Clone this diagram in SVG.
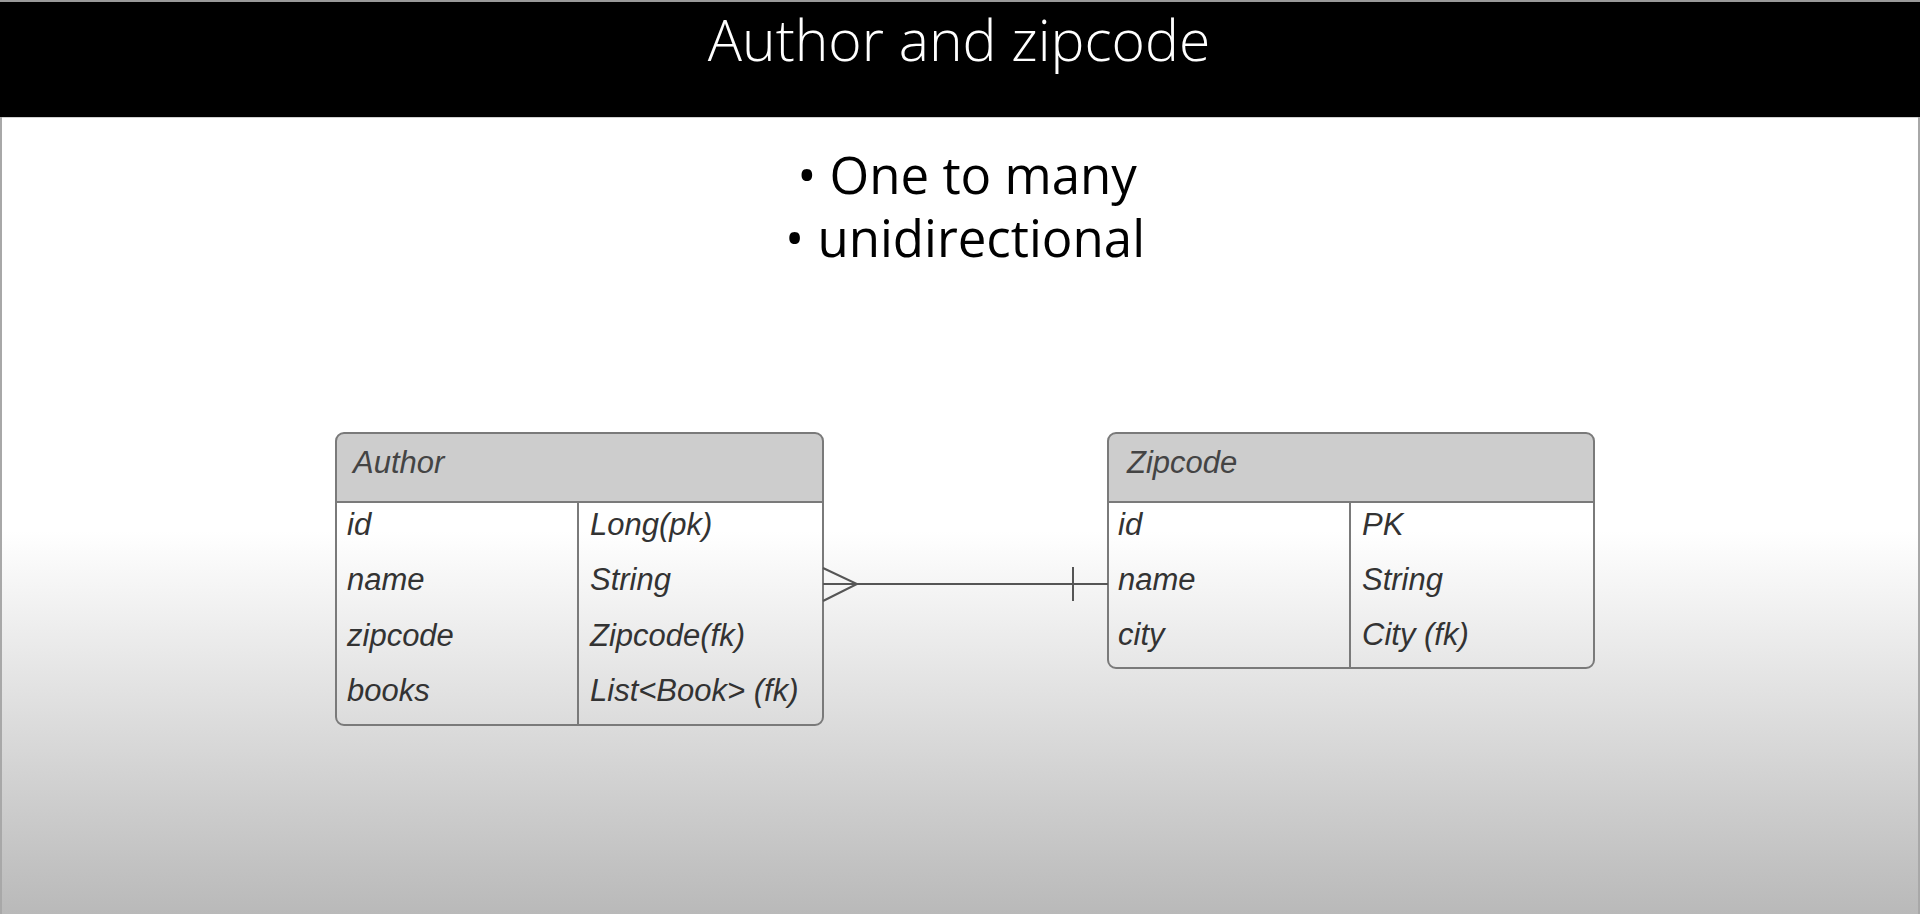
<svg xmlns="http://www.w3.org/2000/svg" width="1920" height="914" viewBox="0 0 1920 914">
  <defs>
    <linearGradient id="bg" gradientUnits="userSpaceOnUse" x1="0" y1="116" x2="0" y2="914">
      <stop offset="0" stop-color="#ffffff"/>
      <stop offset="0.52" stop-color="#ffffff"/>
      <stop offset="1" stop-color="#b9b9b9"/>
    </linearGradient>
    <style>
      .title { font-family: "Open Sans", "Liberation Sans", sans-serif; font-size: 57px; font-weight: 300; fill: #ffffff; }
      .bullet { font-family: "Open Sans", "Liberation Sans", sans-serif; font-size: 51px; fill: #000000; }
      .frame { fill: none; stroke: #7a7a7a; stroke-width: 2; }
      .head { fill: #cdcdcd; }
      .sep { stroke: #7a7a7a; stroke-width: 2; }
      .hdr { font-family: "Liberation Sans", Arial, sans-serif; font-style: italic; font-size: 31px; fill: #444444; }
      .cell { font-family: "Liberation Sans", Arial, sans-serif; font-style: italic; font-size: 31px; fill: #333333; }
      .conn { fill: none; stroke: #555555; stroke-width: 2; }
    </style>
  </defs>

  <!-- background -->
  <rect x="0" y="0" width="1920" height="914" fill="url(#bg)"/>
  <rect x="0" y="0" width="1920" height="2" fill="#9a9a9a"/>
  <rect x="0" y="2" width="1920" height="115" fill="#000000"/>
  <rect x="0" y="117" width="1920" height="1" fill="#d0d0d0"/>
  <rect x="0" y="117" width="2" height="797" fill="#a8a8a8"/>
  <rect x="1918" y="117" width="2" height="797" fill="#a8a8a8"/>

  <g id="title">
    <text class="title" x="959" y="61" text-anchor="middle">Author and zipcode</text>
  </g>

  <g id="bullets">
    <text class="bullet" text-anchor="middle"><tspan x="967" y="194">• One to many</tspan><tspan x="965" y="257">• unidirectional</tspan></text>
  </g>

  <g id="author">
    <path class="head" d="M344,433 H815 A8,8 0 0 1 823,441 V502 H336 V441 A8,8 0 0 1 344,433 Z"/>
    <rect class="frame" x="336" y="433" width="487" height="292" rx="8" ry="8"/>
    <line class="sep" x1="336" y1="502" x2="823" y2="502"/>
    <line class="sep" x1="578" y1="502" x2="578" y2="725"/>
    <text class="hdr" x="353" y="473">Author</text>
    <text class="cell" x="347" y="535">id</text>
    <text class="cell" x="590" y="535">Long(pk)</text>
    <text class="cell" x="347" y="590">name</text>
    <text class="cell" x="590" y="590">String</text>
    <text class="cell" x="347" y="646">zipcode</text>
    <text class="cell" x="590" y="646">Zipcode(fk)</text>
    <text class="cell" x="347" y="701">books</text>
    <text class="cell" x="590" y="701">List&lt;Book&gt; (fk)</text>
  </g>

  <g id="zipcode">
    <path class="head" d="M1116,433 H1586 A8,8 0 0 1 1594,441 V502 H1108 V441 A8,8 0 0 1 1116,433 Z"/>
    <rect class="frame" x="1108" y="433" width="486" height="235" rx="8" ry="8"/>
    <line class="sep" x1="1108" y1="502" x2="1594" y2="502"/>
    <line class="sep" x1="1350" y1="502" x2="1350" y2="668"/>
    <text class="hdr" x="1127" y="473">Zipcode</text>
    <text class="cell" x="1118" y="535">id</text>
    <text class="cell" x="1362" y="535">PK</text>
    <text class="cell" x="1118" y="590">name</text>
    <text class="cell" x="1362" y="590">String</text>
    <text class="cell" x="1118" y="645">city</text>
    <text class="cell" x="1362" y="645">City (fk)</text>
  </g>

  <g id="connectors">
    <line class="conn" x1="823" y1="584" x2="1108" y2="584"/>
    <polyline class="conn" points="823,568 857,584 823,601"/>
    <line class="conn" x1="1073" y1="567" x2="1073" y2="601"/>
  </g>
</svg>
